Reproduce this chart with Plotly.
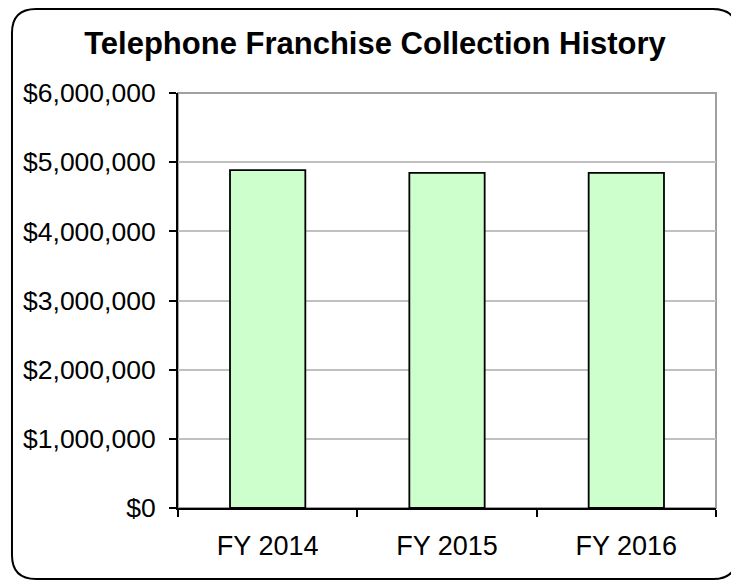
"""Telephone franchise collection history — bar chart in the old spreadsheet style."""
import plotly.graph_objects as go

categories = ["FY 2014", "FY 2015", "FY 2016"]
collections = [4885000, 4845000, 4845000]
y_ticks = [0, 1000000, 2000000, 3000000, 4000000, 5000000, 6000000]

# page body has an 8px margin, so the figure is 8px smaller and all pixel
# positions below are in figure coordinates (reference pixel - 8)
_OFF = 8
_W, _H = 739 - _OFF, 581 - _OFF
_L, _R, _T, _B = 178 - _OFF, 23, 93 - _OFF, 73
_FONT = "Liberation Sans, Arial, sans-serif"


def _px(x, y):
    # pixel -> paper coords of the plot area
    return (x - _L) / (_W - _L - _R), (_H - _B - y) / (_H - _T - _B)


def _rounded_box(x0, y0, x1, y1, r):
    pts = []
    a = _px(x0 + r, y0); pts.append("M%.4f,%.4f" % a)
    b = _px(x1 - r, y0); pts.append("L%.4f,%.4f" % b)
    c = _px(x1, y0); d = _px(x1, y0 + r); pts.append("Q%.4f,%.4f %.4f,%.4f" % (*c, *d))
    e = _px(x1, y1 - r); pts.append("L%.4f,%.4f" % e)
    f = _px(x1, y1); g = _px(x1 - r, y1); pts.append("Q%.4f,%.4f %.4f,%.4f" % (*f, *g))
    h = _px(x0 + r, y1); pts.append("L%.4f,%.4f" % h)
    i = _px(x0, y1); j = _px(x0, y1 - r); pts.append("Q%.4f,%.4f %.4f,%.4f" % (*i, *j))
    k = _px(x0, y0 + r); pts.append("L%.4f,%.4f" % k)
    m = _px(x0, y0); n = _px(x0 + r, y0); pts.append("Q%.4f,%.4f %.4f,%.4f" % (*m, *n))
    return " ".join(pts) + " Z"


fig = go.Figure(go.Bar(
    x=categories, y=collections,
    width=0.42,
    marker=dict(color="#CCFFCC", line=dict(color="#000000", width=1.8)),
    hovertemplate="%{x}<br>%{y:$,.0f}<extra></extra>",
))

fig.update_layout(
    width=_W, height=_H,
    margin=dict(l=_L, r=_R, t=_T, b=_B, autoexpand=False),
    paper_bgcolor="#ffffff", plot_bgcolor="#ffffff",
    font=dict(family=_FONT, color="#000000", size=26),
    title=dict(
        text="<b>Telephone Franchise Collection History</b>",
        x=(375 - _OFF) / _W, xanchor="center", y=1 - (43 - _OFF) / _H, yanchor="middle",
        font=dict(family=_FONT, size=31, color="#000000"),
    ),
    showlegend=False,
    xaxis=dict(
        type="category", tickson="boundaries",
        ticks="outside", ticklen=7, tickwidth=2, tickcolor="#000000",
        showline=True, linecolor="#000000", linewidth=2,
        showgrid=False, zeroline=False,
        tickfont=dict(size=27),
        ticklabelstandoff=13,
    ),
    yaxis=dict(
        range=[0, 6000000], tickvals=y_ticks, tickformat="$,.0f",
        ticks="outside", ticklen=7, tickwidth=2, tickcolor="#000000",
        showline=True, linecolor="#000000", linewidth=2,
        showgrid=True, gridcolor="#c0c0c0", gridwidth=2,
        zeroline=False, tickfont=dict(size=26.5),
        ticklabelstandoff=8,
    ),
    shapes=[
        dict(type="rect", xref="paper", yref="paper", x0=0, y0=0, x1=1, y1=1,
             line=dict(color="#a0a0a0", width=2), layer="below"),
        dict(type="path", xref="paper", yref="paper",
             path=_rounded_box(12 - _OFF, 9 - _OFF, 737 - _OFF, 579 - _OFF, 24),
             line=dict(color="#000000", width=2)),
    ],
)

fig.write_html("out.html")
